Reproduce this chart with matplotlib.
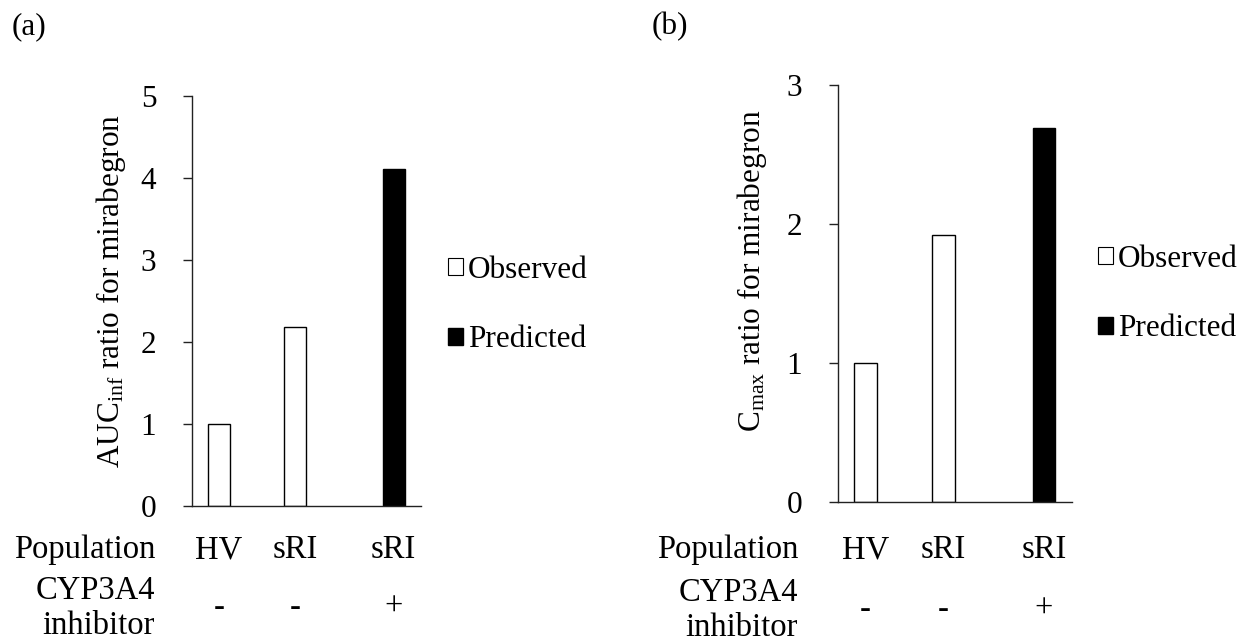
import numpy as np
import matplotlib
matplotlib.use("Agg")
import matplotlib.pyplot as plt
import matplotlib.transforms as mtransforms
from matplotlib.patches import Patch

plt.rcParams['font.family'] = ['Liberation Serif', 'DejaVu Serif']
plt.rcParams['mathtext.fontset'] = 'custom'
plt.rcParams['mathtext.rm'] = 'Liberation Serif'
plt.rcParams['mathtext.default'] = 'regular'

FS = 22.5      # ticks, axis titles, legend
FS_TAB = 23.5  # table of groups under the bars

# Groups on the x axis
population = ["HV", "sRI", "sRI"]
inhibitor = ["-", "-", "+"]

# AUCinf ratios
auc_observed = [1.0, 2.18, np.nan]
auc_predicted = [np.nan, np.nan, 4.11]

# Cmax ratios
cmax_observed = [1.0, 1.92, np.nan]
cmax_predicted = [np.nan, np.nan, 2.69]

W, H = 1246, 641
fig = plt.figure(figsize=(W / 100, H / 100), dpi=100)

bar_w = 0.288


def panel(rect, observed, predicted, ymax, ylabel, ylab_xy, tag, tag_x, pop_y, inh_y,
          left_x, legend_xy):
    ax = fig.add_axes(rect)
    x = np.arange(len(population))
    obs = np.array(observed, dtype=float)
    pred = np.array(predicted, dtype=float)
    ax.bar(x - bar_w / 2, obs, bar_w, facecolor='white', edgecolor='black', linewidth=1.0)
    ax.bar(x + bar_w / 2, pred, bar_w, facecolor='black', edgecolor='black', linewidth=1.0)

    ax.set_xlim(-0.5, 2.5)
    ax.set_ylim(0, ymax)
    ax.set_yticks(range(ymax + 1))
    ax.set_xticks([])
    for s in ['top', 'right']:
        ax.spines[s].set_visible(False)
    for s in ['left', 'bottom']:
        ax.spines[s].set_linewidth(1.0)
        ax.spines[s].set_color('#222222')
    ax.tick_params(axis='y', direction='out', length=6.5, width=1.0, color='#222222',
                   pad=19, labelsize=FS)

    ax.text(ylab_xy[0] / W, 1 - ylab_xy[1] / H, ylabel, transform=fig.transFigure,
            rotation=90, ha='center', va='center', fontsize=FS)

    # group labels under each bar
    centers = np.where(np.isnan(obs), x + bar_w / 2, x - bar_w / 2)
    trans = mtransforms.blended_transform_factory(ax.transData, fig.transFigure)
    for cx, p, inh in zip(centers, population, inhibitor):
        ax.text(cx, 1 - pop_y / H, p, transform=trans, ha='center', va='center',
                fontsize=FS_TAB)
        ax.text(cx, 1 - inh_y / H, inh, transform=trans, ha='center', va='center',
                fontsize=FS_TAB)
    fig.text(left_x / W, 1 - pop_y / H, "Population", ha='right', va='center',
             fontsize=FS_TAB)
    fig.text(left_x / W, 1 - inh_y / H, "CYP3A4\ninhibitor", ha='right', va='center',
             multialignment='right', fontsize=FS_TAB, linespacing=1.18)

    fig.text(tag_x / W, 1 - 27 / H, tag, ha='left', va='center', fontsize=FS)

    handles = [Patch(facecolor='white', edgecolor='black', linewidth=0.8),
               Patch(facecolor='black', edgecolor='black')]
    fig.legend(handles, ["Observed", "Predicted"], loc='center left',
               bbox_to_anchor=(legend_xy[0] / W, 1 - legend_xy[1] / H),
               frameon=False, fontsize=FS, handlelength=0.48, handleheight=0.48,
               handletextpad=0.15, labelspacing=1.3, borderpad=0, borderaxespad=0)
    return ax


panel([191.7 / W, 1 - 505.7 / H, 229 / W, 410 / H], auc_observed, auc_predicted, 5,
      "AUC$_{inf}$ ratio for mirabegron", (111, 291), "(a)", 12, 550, 608, 155,
      (448, 305))
panel([837.7 / W, 1 - 501.7 / H, 234 / W, 416.7 / H], cmax_observed, cmax_predicted, 3,
      "C$_{max}$ ratio for mirabegron", (752, 271), "(b)", 652, 550, 610, 798,
      (1098, 294))

fig.savefig("out.png", dpi=100)
